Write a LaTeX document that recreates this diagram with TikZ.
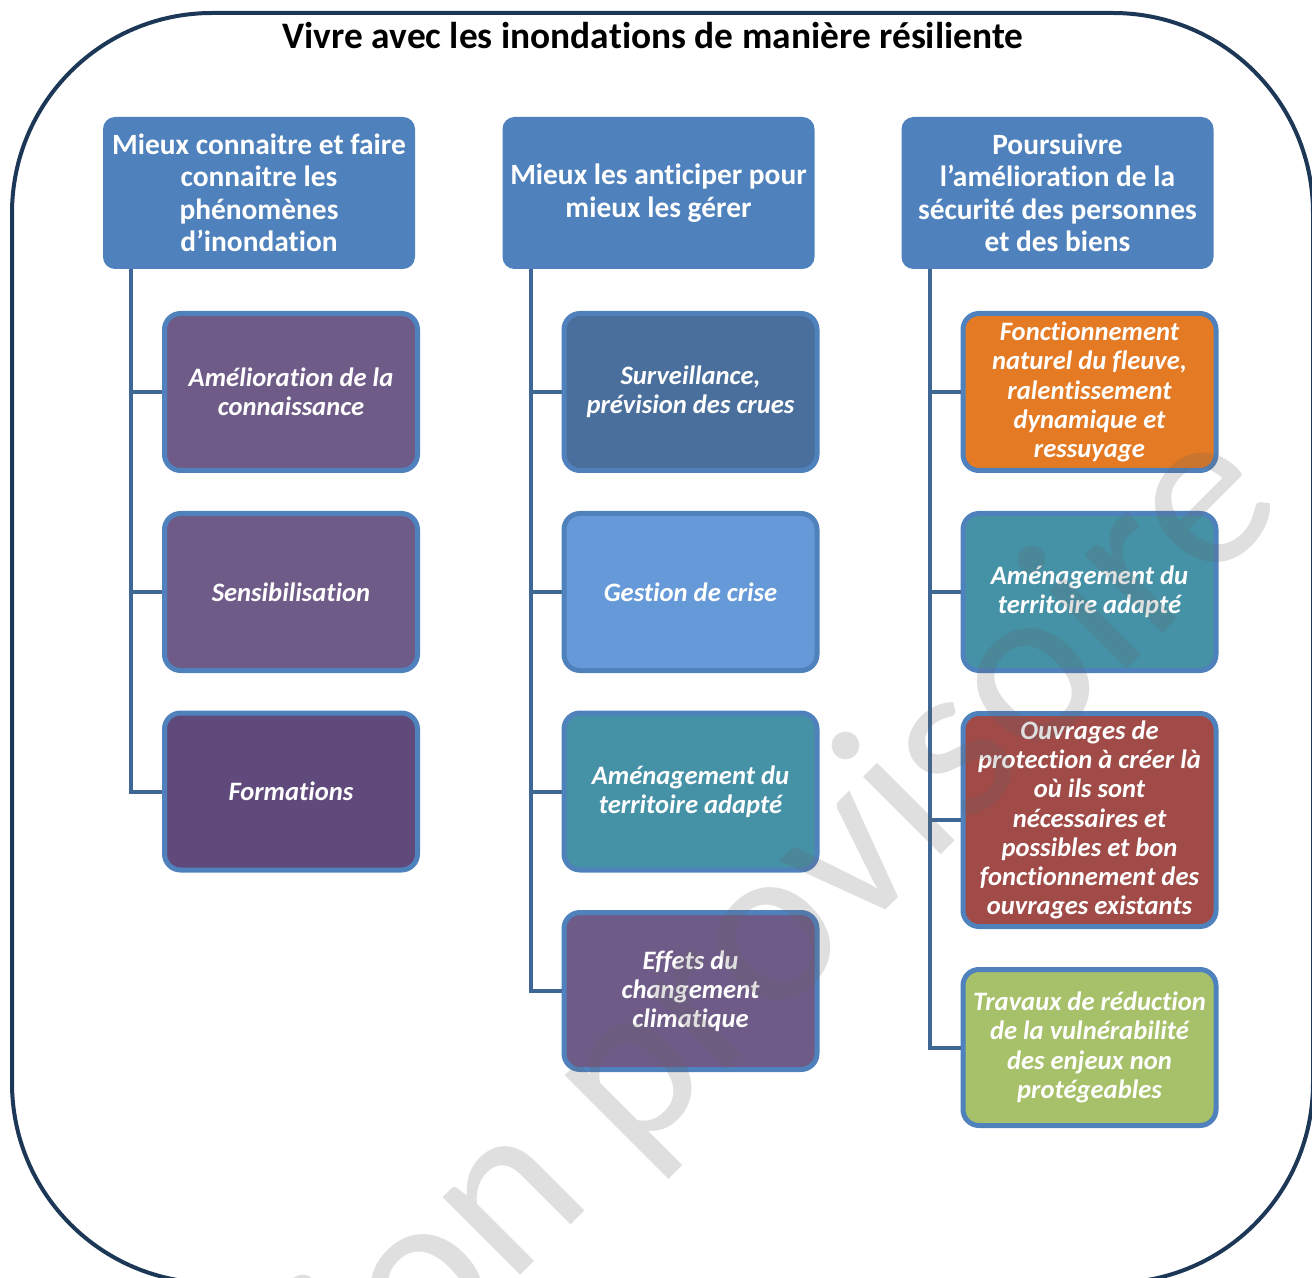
\documentclass[tikz,border=0pt]{standalone}
\usepackage{fontspec}
\setmainfont[Ligatures=NoCommon]{Carlito}
\definecolor{kopfblau}{HTML}{4F81BD}
\definecolor{astblau}{HTML}{3F6796}
\definecolor{rahmenblau}{HTML}{1D3757}
\definecolor{violett}{HTML}{6F5B87}
\definecolor{dunkelviolett}{HTML}{604A7B}
\definecolor{schiefer}{HTML}{4A6F9C}
\definecolor{hellblau}{HTML}{6699D8}
\definecolor{petrol}{HTML}{4591A6}
\definecolor{orange}{HTML}{E47A24}
\definecolor{rotbraun}{HTML}{A04B48}
\definecolor{gruen}{HTML}{A6C16A}
\begin{document}
\begin{tikzpicture}[x=0.5pt,y=-0.5pt,
    every text node part/.style={align=center},
    kopf/.style={fill=kopfblau, rounded corners=6pt, inner sep=0pt,
        minimum width=156pt, minimum height=76pt, text=white,
        font=\fontsize{14.7}{16.25}\selectfont\bfseries},
    feld/.style={draw=kopfblau, line width=2.5pt, rounded corners=8pt, inner sep=0pt,
        minimum width=126.5pt, minimum height=78.5pt, text=white,
        font=\fontsize{13.3}{14.6}\selectfont\bfseries\itshape},
    ast/.style={draw=astblau, line width=2pt}]
\useasboundingbox (0,0) rectangle (1312,1278);
\clip (0,0) rectangle (1312,1278);

%Rahmen und Titel
    \draw[rahmenblau, line width=2pt, rounded corners=100pt] (12,13) rectangle (1313,1283);
    \node[anchor=base, font=\fontsize{18.7}{22}\selectfont\bfseries] (titel) at (653,49)
        {Vivre avec les inondations de manière résiliente};

%Kopfzeile
    \node[kopf] (h1) at (259,193)
        {Mieux connaitre et faire\\connaitre les\\phénomènes\\d’inondation};
    \node[kopf] (h2) at (658.5,193)
        {Mieux les anticiper pour\\mieux les gérer};
    \node[kopf] (h3) at (1057.5,193)
        {Poursuivre\\l’amélioration de la\\sécurité des personnes\\et des biens};

%Spalte 1
    \node[feld, fill=violett] (c11) at (291,392)
        {Amélioration de la\\connaissance};
    \node[feld, fill=violett] (c12) at (291,592)
        {Sensibilisation};
    \node[feld, fill=dunkelviolett] (c13) at (291,791.5)
        {Formations};

%Spalte 2
    \node[feld, fill=schiefer] (c21) at (690.5,392)
        {Surveillance,\\prévision des crues};
    \node[feld, fill=hellblau] (c22) at (690.5,592)
        {Gestion de crise};
    \node[feld, fill=petrol] (c23) at (690.5,791.5)
        {Aménagement du\\territoire adapté};
    \node[feld, fill=violett] (c24) at (690.5,991)
        {Effets du\\changement\\climatique};

%Spalte 3
    \node[feld, fill=orange] (c31) at (1089.5,392)
        {Fonctionnement\\naturel du fleuve,\\ralentissement\\dynamique et\\ressuyage};
    \node[feld, fill=petrol] (c32) at (1089.5,592)
        {Aménagement du\\territoire adapté};
    \node[feld, fill=rotbraun, minimum height=106.5pt] (c33) at (1089.5,820)
        {Ouvrages de\\protection à créer là\\où ils sont\\nécessaires et\\possibles et bon\\fonctionnement des\\ouvrages existants};
    \node[feld, fill=gruen, minimum height=78pt] (c34) at (1089.5,1047.5)
        {Travaux de réduction\\de la vulnérabilité\\des enjeux non\\protégeables};

%Verbindungen
    \foreach \k in {c11,c12,c13}{
        \draw[ast] ([xshift=-64pt]h1.south) |- (\k.west);}
    \foreach \k in {c21,c22,c23,c24}{
        \draw[ast] ([xshift=-63.75pt]h2.south) |- (\k.west);}
    \foreach \k in {c31,c32,c33,c34}{
        \draw[ast] ([xshift=-63.75pt]h3.south) |- (\k.west);}

%Wasserzeichen
    \node[anchor=base, rotate=45, text=black!62, opacity=0.2,
        font=\fontsize{115}{115}\selectfont] (wz) at (696,1100)
        {Version provisoire};

\end{tikzpicture}
\end{document}
